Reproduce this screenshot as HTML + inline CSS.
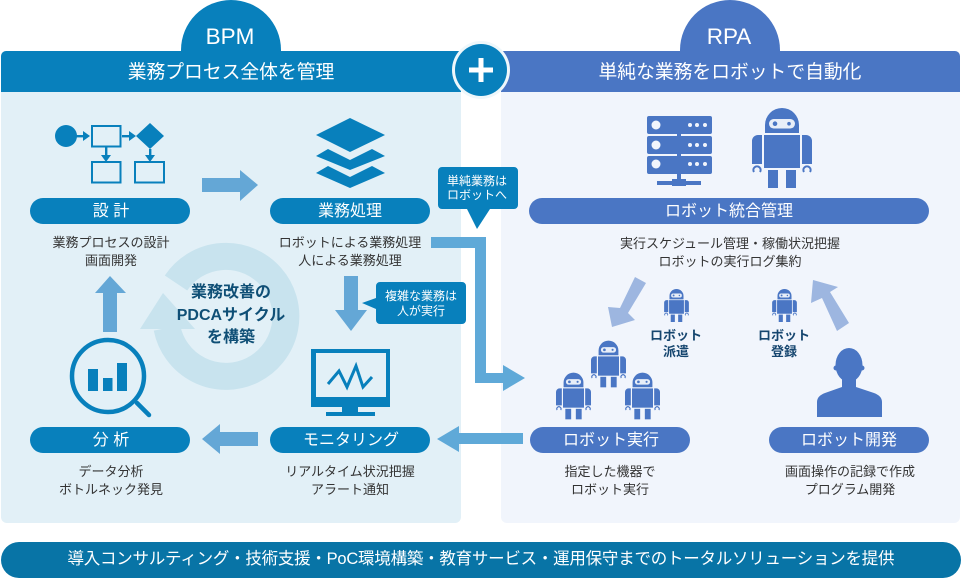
<!DOCTYPE html>
<html><head><meta charset="utf-8">
<style>
html,body{margin:0;padding:0;background:#fff;width:961px;height:578px;overflow:hidden}
svg{display:block}
text{font-family:"Liberation Sans","Noto Sans CJK JP",sans-serif;text-anchor:middle}
.d{font-size:13px;fill:#333}
.p{font-size:16px;fill:#fff}
.t{font-size:18.8px;fill:#fff}
.h{font-size:22.5px;fill:#fff}
.c{font-size:12px;fill:#fff}
.b{font-size:13px;fill:#16466f;font-weight:700}
.m{font-size:16px;fill:#0f4f76;font-weight:700}
</style></head><body>
<svg width="961" height="578" viewBox="0 0 961 578" xmlns="http://www.w3.org/2000/svg">
<defs>
<symbol id="r" viewBox="0 0 60 80">
<path d="M13 25V17a17 17 0 0 1 34 0V25Z" fill="#4a76c4"/>
<rect x="17" y="11" width="26" height="9.5" rx="4.7" fill="#e8eef8"/>
<circle cx="23" cy="15.7" r="2.3" fill="#4a76c4"/><circle cx="37" cy="15.7" r="1.8" fill="#4a76c4"/>
<rect x="12" y="27" width="36" height="33" fill="#4a76c4"/>
<path d="M0 56V33a6 6 0 0 1 6-6h4V56ZM60 56V33a6 6 0 0 0-6-6h-4V56Z" fill="#4a76c4"/>
<path d="M2 64a3.6 3.6 0 1 1 6 0M52 64a3.6 3.6 0 1 1 6 0" fill="none" stroke="#4a76c4" stroke-width="2"/>
<rect x="16" y="62" width="10" height="18" fill="#4a76c4"/><rect x="34" y="62" width="10" height="18" fill="#4a76c4"/>
</symbol>
</defs>
<rect x="1" y="51" width="460" height="472" rx="6" fill="#e2f0f7"/>
<rect x="501" y="51" width="459" height="472" rx="6" fill="#f1f5fc"/>
<path d="M181 50A50 50 0 0 1 281 50V53H181Z" fill="#0880bc"/>
<path d="M680 50A50 50 0 0 1 780 50V53H680Z" fill="#4a76c4"/>
<path d="M1 92V56a5 5 0 0 1 5-5H461V92Z" fill="#0880bc"/>
<path d="M501 92V51H955a5 5 0 0 1 5 5V92Z" fill="#4a76c4"/>
<text x="230" y="44" class="h">BPM</text>
<text x="729" y="44" class="h">RPA</text>
<text x="231" y="78" class="t">業務プロセス全体を管理</text>
<text x="730" y="78" class="t">単純な業務をロボットで自動化</text>

<!-- plus -->
<circle cx="481" cy="70" r="29" fill="#eef7fb"/>
<circle cx="481" cy="70" r="26" fill="#0880bc"/>
<path d="M478.500 58h5v9.500h9.500v5h-9.500v9.500h-5v-9.500h-9.500v-5h9.500Z" fill="#fff"/>

<!-- flow icon -->
<g fill="#0880bc">
<circle cx="66" cy="136" r="11"/>
<path d="M150 123l14 13-14 13-14-13Z"/>
<rect x="76" y="135" width="12" height="2.400"/><path d="M83 131l7 5-7 5Z"/>
<rect x="122" y="135" width="8" height="2.400"/><path d="M129 131l7 5-7 5Z"/>
<rect x="105" y="147" width="2.400" height="9"/><path d="M101 155h10l-5 7Z"/>
<rect x="149" y="149" width="2.400" height="7"/><path d="M145 155h10l-5 7Z"/>
</g>
<g fill="none" stroke="#0880bc" stroke-width="2">
<rect x="92" y="126" width="28.500" height="20.500"/>
<rect x="92" y="162" width="28.500" height="20.500"/>
<rect x="135" y="162" width="29" height="20.500"/>
</g>
<!-- layers -->
<g fill="#0880bc">
<path d="M350 118l35 17-35 17-34-17Z"/>
<path d="M316 156l12-7 22 11 22-11 13 7-35 14Z"/>
<path d="M316 173l12-7 22 11 22-11 13 7-35 15Z"/>
</g>
<!-- pills BPM -->
<g fill="#0880bc">
<rect x="30" y="198" width="160" height="26" rx="13"/>
<rect x="270" y="198" width="160" height="26" rx="13"/>
<rect x="30" y="427" width="160" height="26" rx="13"/>
<rect x="270" y="427" width="160" height="26" rx="13"/>
</g>
<g fill="#4a76c4">
<rect x="529" y="198" width="400" height="26" rx="13"/>
<rect x="530" y="427" width="160" height="26" rx="13"/>
<rect x="769" y="427" width="160" height="26" rx="13"/>
</g>
<text x="111" y="216" class="p">設 計</text>
<text x="350" y="216" class="p">業務処理</text>
<text x="111" y="445" class="p">分 析</text>
<text x="351" y="445" class="p">モニタリング</text>
<text x="729" y="216" class="p">ロボット統合管理</text>
<text x="611" y="445" class="p">ロボット実行</text>
<text x="849" y="445" class="p">ロボット開発</text>

<!-- descriptions -->
<text x="111" y="247" class="d">業務プロセスの設計</text>
<text x="111" y="265" class="d">画面開発</text>
<text x="350" y="247" class="d">ロボットによる業務処理</text>
<text x="350" y="265" class="d">人による業務処理</text>
<text x="730" y="248" class="d">実行スケジュール管理・稼働状況把握</text>
<text x="730" y="266" class="d">ロボットの実行ログ集約</text>
<text x="111" y="476" class="d">データ分析</text>
<text x="111" y="494" class="d">ボトルネック発見</text>
<text x="350" y="476" class="d">リアルタイム状況把握</text>
<text x="350" y="494" class="d">アラート通知</text>
<text x="610" y="476" class="d">指定した機器で</text>
<text x="610" y="494" class="d">ロボット実行</text>
<text x="850" y="476" class="d">画面操作の記録で作成</text>
<text x="850" y="494" class="d">プログラム開発</text>

<!-- cycle -->
<path d="M176 283A60 60 0 1 1 167 328" fill="none" stroke="#c8e3ee" stroke-width="27"/>
<path d="M163 293L140 329H195Z" fill="#c8e3ee"/>
<text x="231" y="297" class="m">業務改善の</text>
<text x="231" y="320" class="m">PDCAサイクル</text>
<text x="231" y="342" class="m">を構築</text>

<!-- arrows -->
<g fill="#64a7d6">
<path d="M202 178H240V170L258 185 240 201V192H202Z"/>
<path d="M258 432H220V424L202 439 220 454V446H258Z"/>
<path d="M103 332V293H95L110 276 126 293H117V332Z"/>
<path d="M344 276H358V310H367L351 331 335 310H344Z"/>
<path d="M431 237H486V373H503V365L525 378 503 391V383H475V248H431Z" fill="#5fa9d8"/>
<path d="M523 433H459V426L437 439 459 452V444H523Z" fill="#5fa9d8"/>
</g>

<!-- callouts -->
<path d="M442 167H514a4 4 0 0 1 4 4V205a4 4 0 0 1-4 4H490L477 229 467 209H442a4 4 0 0 1-4-4V171a4 4 0 0 1 4-4Z" fill="#0880bc"/>
<text x="477" y="185" class="c">単純業務は</text>
<text x="477" y="199" class="c">ロボットへ</text>
<path d="M380 282H462a4 4 0 0 1 4 4V320a4 4 0 0 1-4 4H380a4 4 0 0 1-4-4V309L362 303 376 298V286a4 4 0 0 1 4-4Z" fill="#0880bc"/>
<text x="421" y="300" class="c">複雑な業務は</text>
<text x="421" y="315" class="c">人が実行</text>

<!-- monitor -->
<path fill-rule="evenodd" d="M311 349H390V407H311ZM316 353V397H386V353Z" fill="#0880bc"/>
<rect x="342" y="407" width="16" height="7" fill="#0880bc"/>
<rect x="326" y="412" width="49" height="4" fill="#0880bc"/>
<polyline points="328,384 339,371 347,387 356,366 363,387 372,377" fill="none" stroke="#0880bc" stroke-width="3"/>

<!-- magnifier -->
<circle cx="108" cy="376" r="36" fill="none" stroke="#0880bc" stroke-width="4.500"/>
<line x1="137" y1="403" x2="149" y2="415" stroke="#0880bc" stroke-width="4.500" stroke-linecap="round"/>
<g fill="#0880bc">
<rect x="88" y="369" width="10" height="22"/>
<rect x="103" y="378" width="9.500" height="13"/>
<rect x="117" y="363" width="10" height="28"/>
</g>

<!-- server -->
<g fill="#4a76c4">
<rect x="647" y="116" width="65" height="18" rx="2"/>
<rect x="647" y="136" width="65" height="18" rx="2"/>
<rect x="647" y="156" width="65" height="18" rx="2"/>
<rect x="677" y="134" width="4" height="48"/>
<rect x="657" y="181" width="44" height="4"/>
<rect x="672" y="179" width="14" height="7"/>
</g>
<g fill="#f1f5fc">
<circle cx="656" cy="125" r="4.500"/><circle cx="656" cy="145" r="4.500"/><circle cx="656" cy="164" r="4.500"/>
<circle cx="690" cy="125" r="2"/><circle cx="697" cy="125" r="2"/><circle cx="705" cy="125" r="2"/>
<circle cx="690" cy="145" r="2"/><circle cx="697" cy="145" r="2"/><circle cx="705" cy="145" r="2"/>
<circle cx="690" cy="164" r="2"/><circle cx="697" cy="164" r="2"/><circle cx="705" cy="164" r="2"/>
</g>

<!-- robots -->
<use href="#r" x="752" y="108" width="60" height="80"/>
<use href="#r" x="664" y="289" width="25" height="33"/>
<use href="#r" x="772" y="289" width="25" height="33"/>
<use href="#r" x="591" y="340" width="35" height="48"/>
<use href="#r" x="556" y="372" width="35" height="48"/>
<use href="#r" x="625" y="372" width="35" height="48"/>

<!-- person -->
<g fill="#4a76c4">
<ellipse cx="849" cy="365" rx="13.500" ry="17"/>
<circle cx="836" cy="368" r="2.500"/><circle cx="862" cy="368" r="2.500"/>
<path d="M817 417V402Q817 396 825 393L842 387V376H856V387L874 393Q882 396 882 402V417Z"/>
</g>

<!-- light arrows -->
<path d="M635 277L646 283 628 313 635 320 612 327 608 307 620 308Z" fill="#9db6e0"/>
<path d="M813 280L838 287 830 292 849 323 837 331 822 298 811 303Z" fill="#9db6e0"/>

<text x="676" y="340" class="b">ロボット</text>
<text x="676" y="356" class="b">派遣</text>
<text x="784" y="340" class="b">ロボット</text>
<text x="784" y="356" class="b">登録</text>

<!-- footer -->
<rect x="1" y="542" width="960" height="36" rx="18" fill="#0874a6"/>
<text x="481" y="564" font-size="16.500" fill="#fff" textLength="827" lengthAdjust="spacing">導入コンサルティング・技術支援・PoC環境構築・教育サービス・運用保守までのトータルソリューションを提供</text>
</svg>
</body></html>
